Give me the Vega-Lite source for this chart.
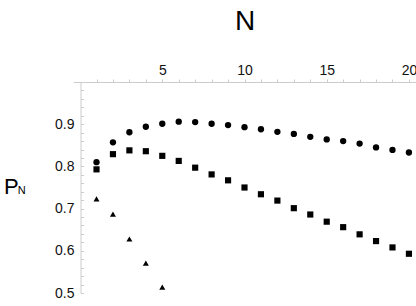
{
  "$schema": "https://vega.github.io/schema/vega-lite/v6.json",
  "width": 343,
  "height": 211,
  "autosize": {"type": "none"},
  "padding": {"left": 73, "top": 82, "right": 0, "bottom": 13},
  "background": "white",
  "config": {
    "view": {"stroke": null},
    "font": "Liberation Sans",
    "axis": {"grid": false, "domainColor": "#cccccc", "tickColor": "#cccccc", "labelColor": "#111111", "labelFont": "Liberation Sans", "titleFont": "Liberation Sans", "titleColor": "#000000", "titleFontWeight": "normal", "domainWidth": 1, "tickWidth": 1}
  },
  "data": {
    "values": [
      {"N": 1, "P": 0.810, "series": "a"}, {"N": 2, "P": 0.857, "series": "a"}, {"N": 3, "P": 0.881, "series": "a"}, {"N": 4, "P": 0.894, "series": "a"}, {"N": 5, "P": 0.901, "series": "a"},
      {"N": 6, "P": 0.906, "series": "a"}, {"N": 7, "P": 0.905, "series": "a"}, {"N": 8, "P": 0.901, "series": "a"}, {"N": 9, "P": 0.898, "series": "a"}, {"N": 10, "P": 0.893, "series": "a"},
      {"N": 11, "P": 0.888, "series": "a"}, {"N": 12, "P": 0.882, "series": "a"}, {"N": 13, "P": 0.877, "series": "a"}, {"N": 14, "P": 0.870, "series": "a"}, {"N": 15, "P": 0.864, "series": "a"},
      {"N": 16, "P": 0.860, "series": "a"}, {"N": 17, "P": 0.854, "series": "a"}, {"N": 18, "P": 0.845, "series": "a"}, {"N": 19, "P": 0.839, "series": "a"}, {"N": 20, "P": 0.833, "series": "a"},
      {"N": 1, "P": 0.793, "series": "b"}, {"N": 2, "P": 0.829, "series": "b"}, {"N": 3, "P": 0.838, "series": "b"}, {"N": 4, "P": 0.836, "series": "b"}, {"N": 5, "P": 0.825, "series": "b"},
      {"N": 6, "P": 0.813, "series": "b"}, {"N": 7, "P": 0.797, "series": "b"}, {"N": 8, "P": 0.781, "series": "b"}, {"N": 9, "P": 0.767, "series": "b"}, {"N": 10, "P": 0.750, "series": "b"},
      {"N": 11, "P": 0.734, "series": "b"}, {"N": 12, "P": 0.719, "series": "b"}, {"N": 13, "P": 0.701, "series": "b"}, {"N": 14, "P": 0.686, "series": "b"}, {"N": 15, "P": 0.669, "series": "b"},
      {"N": 16, "P": 0.656, "series": "b"}, {"N": 17, "P": 0.639, "series": "b"}, {"N": 18, "P": 0.623, "series": "b"}, {"N": 19, "P": 0.608, "series": "b"}, {"N": 20, "P": 0.593, "series": "b"},
      {"N": 1, "P": 0.723, "series": "c"}, {"N": 2, "P": 0.687, "series": "c"}, {"N": 3, "P": 0.628, "series": "c"}, {"N": 4, "P": 0.571, "series": "c"}, {"N": 5, "P": 0.514, "series": "c"}
    ]
  },
  "encoding": {
    "x": {
      "field": "N", "type": "quantitative",
      "scale": {"domain": [-0.43, 20.43], "nice": false, "zero": false},
      "axis": {
        "orient": "top",
        "values": [1,2,3,4,5,6,7,8,9,10,11,12,13,14,15,16,17,18,19,20],
        "labelExpr": "datum.value % 5 == 0 ? datum.label : ''",
        "labelFontSize": 14,
        "labelPadding": 2,
        "tickSize": 3,
        "title": "N",
        "titleFontSize": 28,
        "titleBaseline": "alphabetic",
        "titleY": -53
      }
    }
  },
  "layer": [
    {
      "transform": [{"filter": "datum.series != 'c'"}],
      "mark": {"type": "point", "filled": true, "opacity": 1, "color": "black"},
      "encoding": {
        "y": {
          "field": "P", "type": "quantitative",
          "scale": {"domain": [0.5, 1.0], "nice": false, "zero": false},
          "axis": {
            "orient": "left",
            "offset": -7.5,
            "values": [0.5,0.52,0.54,0.56,0.58,0.6,0.62,0.64,0.66,0.68,0.7,0.72,0.74,0.76,0.78,0.8,0.82,0.84,0.86,0.88,0.9,0.92,0.94,0.96,0.98,1.0],
            "labelExpr": "abs(datum.value*10 - round(datum.value*10)) < 0.001 && datum.value < 0.95 ? format(datum.value, '.1f') : ''",
            "labelFontSize": 14,
            "tickSize": -3,
            "labelPadding": 9.5,
            "title": "P",
            "titleFontSize": 22,
            "titleAngle": 0,
            "titleAlign": "left",
            "titleBaseline": "alphabetic",
            "titleX": -77,
            "titleY": 111.5
          }
        },
        "shape": {
          "field": "series", "type": "nominal",
          "scale": {"domain": ["a", "b", "c"], "range": ["circle", "square", "triangle-up"]},
          "legend": null
        },
        "size": {
          "field": "series", "type": "nominal",
          "scale": {"domain": ["a", "b", "c"], "range": [40, 36, 60]},
          "legend": null
        }
      }
    },
    {
      "transform": [{"filter": "datum.series == 'c'"}],
      "mark": {"type": "point", "filled": true, "opacity": 1, "color": "black"},
      "encoding": {
        "y": {
          "field": "P", "type": "quantitative",
          "axis": {
            "orient": "left",
            "offset": -7.5,
            "domain": false,
            "ticks": false,
            "labels": false,
            "title": "N",
            "titleFontSize": 11,
            "titleAngle": 0,
            "titleAlign": "left",
            "titleBaseline": "alphabetic",
            "titleX": -63.2,
            "titleY": 111.5
          }
        },
        "shape": {"field": "series", "type": "nominal", "legend": null},
        "size": {"field": "series", "type": "nominal", "legend": null}
      }
    }
  ],
  "resolve": {"axis": {"y": "independent"}}
}
